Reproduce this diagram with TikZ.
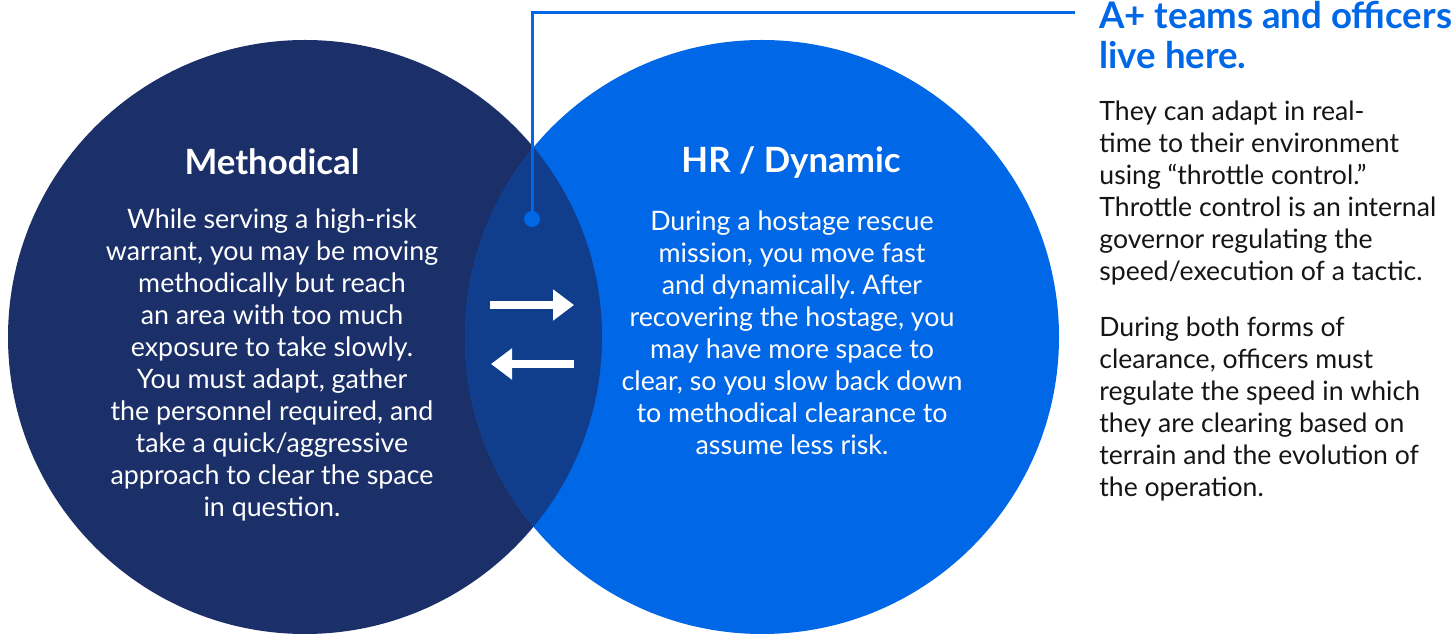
\documentclass[tikz,border=0pt]{standalone}
\usepackage{fontspec}
\setmainfont{Lato}
\frenchspacing
\usetikzlibrary{arrows.meta}
\definecolor{navy}{HTML}{1B2F69}
\definecolor{azure}{HTML}{0067E6}
\definecolor{overlap}{HTML}{103E8C}
\definecolor{ink}{HTML}{151515}
\tikzset{
  bodytext/.style={text=white,align=center,inner sep=0,font=\fontsize{13.4}{16}\selectfont},
  headtext/.style={text=white,inner sep=0,font=\bfseries\fontsize{17.4}{20}\selectfont},
  sidetext/.style={text=ink,align=left,anchor=west,inner sep=0,font=\fontsize{13.3}{16}\selectfont},
  swaparrow/.style={white,line width=4pt,-{Triangle[length=10.5pt,width=15pt]}}
}
\begin{document}
\begin{tikzpicture}[x=0.5pt,y=-0.5pt]
  \useasboundingbox (0,0) rectangle (1456,635);
  \coordinate (L) at (305,337);
  \coordinate (R) at (762,337);
  \fill[navy] (L) circle (297);
  \fill[azure] (R) circle (297);
  \begin{scope}
    \clip (L) circle (297);
    \fill[overlap] (R) circle (297);
  \end{scope}
  % callout line
  \coordinate (dot) at (532,219);
  \coordinate (bend) at (532,13);
  \coordinate (lineend) at (1075,13);
  \draw[azure,line width=1.5pt] (dot) -- (bend) -- (lineend);
  \fill[azure] (dot) circle (8);
  % circle texts
  \node[headtext] (methodical) at (272,162) {Methodical};
  \node[headtext] (dynamic) at (791,162) {HR / Dynamic};
  \node[bodytext] (methodtext) at (272,365) {While serving a high-risk\\
    warrant, you may be moving\\ methodically but reach\\ an area with too much\\
    exposure to take slowly.\\ You must adapt, gather\\ the personnel required, and\\
    take a quick/aggressive\\ approach to clear the space\\ in question.};
  \node[bodytext] (dynamictext) at (792,333) {During a hostage rescue\\
    mission, you move fast\\ and dynamically. After\\ recovering the hostage, you\\
    may have more space to\\ clear, so you slow back down\\ to methodical clearance to\\
    assume less risk.};
  % arrows
  \coordinate (fwdA) at (490,305);
  \coordinate (fwdB) at (574,305);
  \coordinate (backA) at (574,364);
  \coordinate (backB) at (491,364);
  \draw[swaparrow] (fwdA) -- (fwdB);
  \draw[swaparrow] (backA) -- (backB);
  % side column
  \node[sidetext,text=azure,font=\bfseries\fontsize{18.3}{20}\selectfont] (aplus) at (1099,35)
    {A+ teams and officers\\ live here.};
  \node[sidetext] (adapt) at (1099,193) {They can adapt in real-\\
    time to their environment\\ using “throttle control.”\\ Throttle control is an internal\\
    governor regulating the\\ speed/execution of a tactic.};
  \node[sidetext] (both) at (1099,409) {During both forms of\\
    clearance, officers must\\ regulate the speed in which\\ they are clearing based on\\
    terrain and the evolution of\\ the operation.};
\end{tikzpicture}
\end{document}
